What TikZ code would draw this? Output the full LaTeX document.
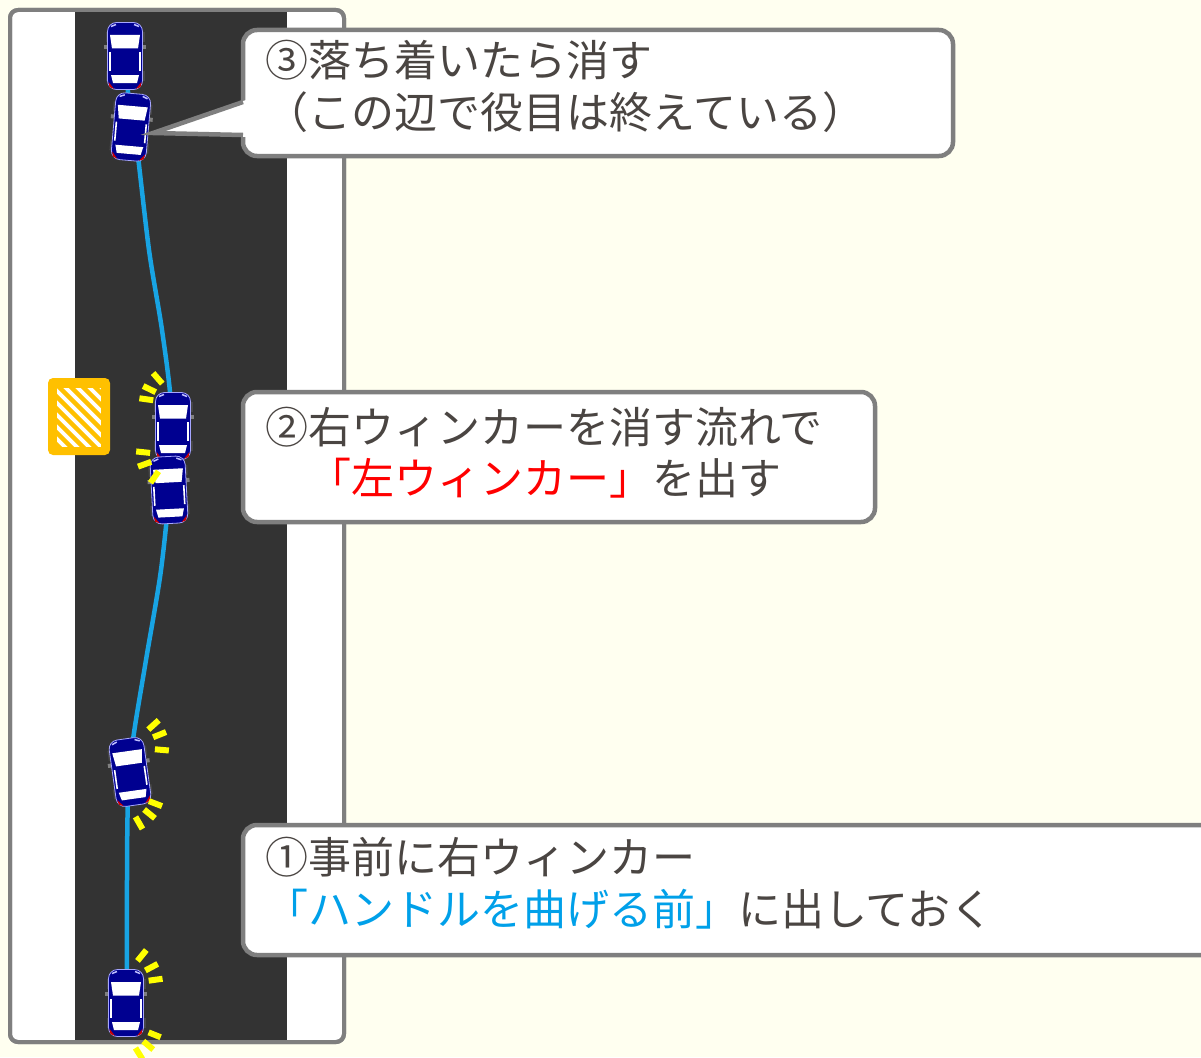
\documentclass[tikz,border=0pt]{standalone}
\usepackage{fontspec}
\setmainfont{Noto Sans CJK JP}
\definecolor{cream}{HTML}{FFFFF0}
\definecolor{asphalt}{HTML}{333333}
\definecolor{frame}{HTML}{7F7F7F}
\definecolor{ink}{HTML}{4A4542}
\definecolor{navy}{HTML}{000090}
\definecolor{route}{HTML}{18A4E4}
\definecolor{amber}{HTML}{FFC000}
\definecolor{flash}{HTML}{FFFF00}
\definecolor{alert}{HTML}{FF0000}
\definecolor{hint}{HTML}{00A0E9}

\tikzset{
  callout/.style={draw=frame, line width=4.5pt, fill=white, rounded corners=14pt},
  txt/.style={text=ink, font=\fontsize{43}{50}\selectfont, inner sep=0pt, anchor=base west},
  ray/.style={draw=flash, line width=6pt},
  car/.pic={
    % tyres and mirrors
    \fill[gray!55!black] (-19.5,-24) rectangle (-16,-14);
    \fill[gray!55!black] (16,-24) rectangle (19.5,-14);
    \fill[gray!55!black] (-19.5,15) rectangle (-16,25);
    \fill[gray!55!black] (16,15) rectangle (19.5,25);
    \fill[gray] (-21,-11) rectangle (-16,-7);
    \fill[gray] (16,-11) rectangle (21,-7);
    % body
    \filldraw[fill=navy, draw=blue!35!white, line width=0.8pt, rounded corners=9pt] (-17.5,-33.5) rectangle (17.5,33.5);
    % glass
    \fill[white] (-15,-21) -- (15,-21) -- (13,-7.5) -- (-13,-7.5) -- cycle;
    \fill[white] (-14,19) -- (14,19) -- (12,27) -- (-12,27) -- cycle;
    \draw[white, line width=1.6pt] (-15,-4) -- (-15,15);
    \draw[white, line width=1.6pt] (15,-4) -- (15,15);
    % lamps
    \draw[blue!25!white, line width=1.5pt] (-14,-29.5) -- (-9,-31.5);
    \draw[blue!25!white, line width=1.5pt] (14,-29.5) -- (9,-31.5);
    \fill[red!80!black] (-16.5,26) -- (-11,32.8) -- (-15.5,31) -- cycle;
    \fill[red!80!black] (16.5,26) -- (11,32.8) -- (15.5,31) -- cycle;
  }
}

% blinker rays: centre, list of angles (counter-clockwise on the page), inner and outer radius
\newcommand\blinkrays[4]{%
  \foreach \a in {#2} {
    \draw[ray] ([shift={(-\a:#3)}]#1) -- ([shift={(-\a:#4)}]#1);
  }%
}

\begin{document}
\begin{tikzpicture}[x=1pt, y=-1pt]
  \useasboundingbox (0,0) rectangle (1201,1057);
  \clip (0,0) rectangle (1201,1057);
  \fill[cream] (0,0) rectangle (1201,1057);

  % road
  \filldraw[fill=white, draw=frame, line width=4pt, rounded corners=8pt] (10,10) rectangle (344,1042);
  \fill[asphalt] (75,12) rectangle (287,1040);
  \draw[frame, line width=4pt, rounded corners=8pt] (10,10) rectangle (344,1042);

  % hatched marker on the left shoulder
  \fill[amber, rounded corners=5pt] (48,378) rectangle (110,455);
  \begin{scope}
    \clip (57,388) rectangle (101,447);
    \fill[white] (57,388) rectangle (101,447);
    \foreach \k in {-7,...,5} {
      \draw[amber, line width=4.5pt] (57+12*\k,385) -- ++(75,75);
    }
  \end{scope}

  % route of the car
  \draw[route, line width=4.5pt] plot[smooth, tension=0.5] coordinates {
    (125,40) (128,92) (136,140) (149,250) (162,330) (171,405) (170,480)
    (161,570) (146,660) (133,740) (128,800) (127,880) (127,1000)};

  % cars along the route
  \pic at (125,56) {car};
  \pic[rotate=-5] at (131,127) {car};
  \pic at (173,426) {car};
  \pic[rotate=3] at (169,490) {car};
  \pic[rotate=8] at (130,772) {car};
  \pic at (126,1003) {car};

  % blinkers
  \blinkrays{118,985}{8,28,51}{31}{45}
  \blinkrays{118,1020}{-22,-40,-58}{33}{46}
  \blinkrays{129,747}{42,22,-5}{26}{40}
  \blinkrays{120,790}{-21,-39,-60}{31}{45}
  \blinkrays{180,404}{131,154,172}{27}{41}
  \blinkrays{170,455}{174,200,235}{20}{34}

  % callout 3
  \draw[callout] (243,30) rectangle (953,156);
  \fill[white] (246,100) -- (153,133) -- (246,137) -- cycle;
  \draw[frame, line width=4.5pt, line join=miter] (243,102) -- (153,133) -- (243,135);
  \node[txt] (c3a) at (265,77) {③落ち着いたら消す};
  \node[txt] (c3b) at (265,128) {（この辺で役目は終えている）};

  % callout 2
  \draw[callout] (243,392) rectangle (875,522);
  \node[txt] (c2a) at (265,443) {②右ウィンカーを消す流れで};
  \node[txt] (c2b) at (308,494) {{\color{alert}「左ウィンカー」}を出す};

  % callout 1
  \draw[callout] (243,825) rectangle (1230,955);
  \node[txt] (c1a) at (265,873) {①事前に右ウィンカー};
  \node[txt] (c1b) at (265,925) {{\color{hint}「ハンドルを曲げる前」}に出しておく};
\end{tikzpicture}
\end{document}
